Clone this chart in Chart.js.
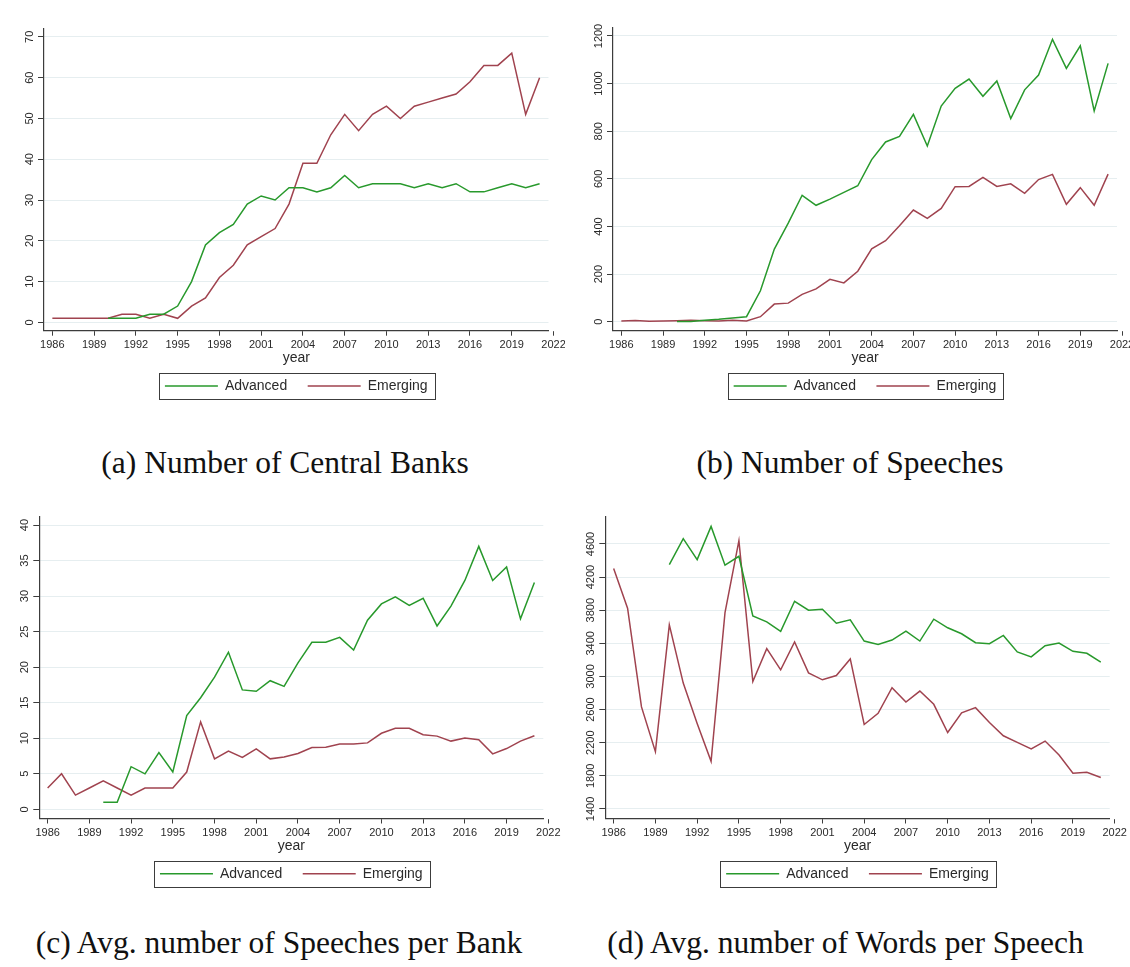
<!DOCTYPE html>
<html>
<head>
<meta charset="utf-8">
<script src="https://cdn.jsdelivr.net/npm/chart.js@4.4.4/dist/chart.umd.min.js"></script>
<style>
  html, body { margin: 0; padding: 0; background: #fff; }
  #page { position: relative; width: 1130px; height: 967px; overflow: hidden; }
  canvas { position: absolute; }
  .caption {
    position: absolute; width: 600px; text-align: center;
    font: 31.5px/1 "Liberation Serif", "DejaVu Serif", serif; color: #111;
    white-space: nowrap;
  }
</style>
</head>
<body>
<div id="page">
  <canvas id="chart-banks"    width="565" height="415" style="left:0;top:0"></canvas>
  <canvas id="chart-speeches" width="565" height="415" style="left:565px;top:0"></canvas>
  <canvas id="chart-perbank"  width="565" height="410" style="left:0;top:490px"></canvas>
  <canvas id="chart-words"    width="565" height="410" style="left:565px;top:490px"></canvas>

  <div class="caption" style="left:-15px;top:446.6px">(a) Number of Central Banks</div>
  <div class="caption" style="left:550px;top:446.6px">(b) Number of Speeches</div>
  <div class="caption" style="left:-21px;top:926.6px">(c) Avg. number of Speeches per Bank</div>
  <div class="caption" style="left:545.5px;top:926.6px">(d) Avg. number of Words per Speech</div>
</div>

<script>
/* ── Data ─────────────────────────────────────────────────────────── */
const YEARS = [1986, 1987, 1988, 1989, 1990, 1991, 1992, 1993, 1994, 1995, 1996, 1997,
               1998, 1999, 2000, 2001, 2002, 2003, 2004, 2005, 2006, 2007, 2008, 2009,
               2010, 2011, 2012, 2013, 2014, 2015, 2016, 2017, 2018, 2019, 2020, 2021];
const X_TICKS = [1986, 1989, 1992, 1995, 1998, 2001, 2004, 2007, 2010, 2013, 2016, 2019, 2022];

// (a) number of central banks
const advBanks = [null, null, null, null, 1, 1, 1, 2, 2, 4, 10, 19,
                  22, 24, 29, 31, 30, 33, 33, 32, 33, 36, 33, 34,
                  34, 34, 33, 34, 33, 34, 32, 32, 33, 34, 33, 34];
const emeBanks = [1, 1, 1, 1, 1, 2, 2, 1, 2, 1, 4, 6,
                  11, 14, 19, 21, 23, 29, 39, 39, 46, 51, 47, 51,
                  53, 50, 53, 54, 55, 56, 59, 63, 63, 66, 51, 60];
const banksTicks = [0, 10, 20, 30, 40, 50, 60, 70];

// (b) number of speeches
const advSpeeches = [null, null, null, null, 1, 1, 6, 10, 16, 21, 130, 305,
                     414, 531, 489, 515, 543, 571, 681, 755, 778, 871, 738, 906,
                     980, 1019, 947, 1011, 853, 974, 1036, 1186, 1064, 1159, 885, 1085];
const emeSpeeches = [3, 5, 2, 3, 4, 6, 4, 3, 6, 3, 21, 74,
                     78, 115, 138, 178, 163, 212, 306, 340, 403, 469, 434, 476,
                     567, 568, 606, 568, 579, 539, 597, 619, 493, 563, 489, 620];
const speechTicks = [0, 200, 400, 600, 800, 1000, 1200];

// (c) avg. speeches per bank
const advPerBank = [null, null, null, null, 1, 1, 6, 5, 8, 5.25, 13.2, 15.7,
                    18.6, 22.1, 16.8, 16.6, 18.1, 17.3, 20.6, 23.5, 23.5, 24.2, 22.4, 26.6,
                    28.9, 29.9, 28.7, 29.7, 25.8, 28.6, 32.2, 37.0, 32.2, 34.1, 26.8, 31.9];
const emePerBank = [3, 5, 2, 3, 4, 3, 2, 3, 3, 3, 5.25, 12.3,
                    7.1, 8.2, 7.3, 8.5, 7.1, 7.35, 7.85, 8.7, 8.75, 9.2, 9.2, 9.35,
                    10.7, 11.4, 11.4, 10.5, 10.3, 9.6, 10.05, 9.8, 7.8, 8.55, 9.6, 10.35];
const perBankTicks = [0, 5, 10, 15, 20, 25, 30, 35, 40];

// (d) avg. words per speech
const advWords = [null, null, null, null, 4352, 4664, 4412, 4812, 4344, 4452, 3732, 3660,
                  3544, 3908, 3800, 3812, 3644, 3684, 3428, 3388, 3440, 3548, 3428, 3692,
                  3588, 3516, 3408, 3396, 3496, 3296, 3236, 3372, 3404, 3304, 3280, 3172];
const emeWords = [4304, 3824, 2632, 2092, 3624, 2920, 2432, 1976, 3772, 4640, 2940, 3336,
                  3080, 3416, 3044, 2960, 3012, 3212, 2420, 2556, 2864, 2692, 2824, 2664,
                  2324, 2560, 2624, 2444, 2284, 2204, 2124, 2220, 2052, 1832, 1844, 1780];
const wordTicks = [1400, 1800, 2200, 2600, 3000, 3400, 3800, 4200, 4600];

/* ── Style ────────────────────────────────────────────────────────── */
const GREEN  = "#28992c";
const MAROON = "#a0434f";
const AXIS   = "#3c3c3c";
const GRID   = "#e6eef0";
const TEXT   = "#2a2a2a";
const SANS   = "'Liberation Sans', Arial, sans-serif";

const toPoints = vals => YEARS.map((yr, i) => ({ x: yr, y: vals[i] }));

// Stata-style framed legend
const legendFrame = {
  id: "legendFrame",
  afterDraw(chart) {
    const boxes = chart.legend && chart.legend.legendHitBoxes;
    if (!boxes || !boxes.length) return;
    const first = boxes[0], last = boxes[boxes.length - 1];
    const x0 = Math.round(first.left - 6) + 0.5;
    const x1 = Math.round(last.left + last.width + 7) + 0.5;
    const y0 = Math.round(first.top - 6) + 0.5;
    const y1 = Math.round(first.top + first.height + 6) + 0.5;
    const ctx = chart.ctx;
    ctx.save();
    ctx.strokeStyle = AXIS; ctx.lineWidth = 1;
    ctx.strokeRect(x0, y0, x1 - x0, y1 - y0);
    ctx.restore();
  }
};

/* ── Panel builder ────────────────────────────────────────────────── */
function makePanel(id, p) {
  const widest = String(p.yTicks[p.yTicks.length - 1]).length * 6.12;
  return new Chart(document.getElementById(id), {
    type: "line",
    data: {
      datasets: [
        { label: "Advanced", data: toPoints(p.adv), borderColor: GREEN,  backgroundColor: GREEN,
          borderWidth: 1.5, pointRadius: 0, tension: 0 },
        { label: "Emerging", data: toPoints(p.eme), borderColor: MAROON, backgroundColor: MAROON,
          borderWidth: 1.5, pointRadius: 0, tension: 0 }
      ]
    },
    options: {
      responsive: false, animation: false,
      layout: { padding: p.pad },
      plugins: {
        tooltip: { enabled: false },
        legend: {
          position: "bottom", fullSize: false, align: "center",
          labels: { boxWidth: 53, boxHeight: 0, padding: 20.5, color: TEXT, font: { family: SANS, size: 14 } }
        }
      },
      scales: {
        x: {
          type: "linear", min: 1985.4, max: 2021.64,
          afterBuildTicks: s => { s.ticks = X_TICKS.map(v => ({ value: v })); },
          afterFit: s => { s.height = 27.8; s.paddingLeft = 0; s.paddingRight = 0; },
          ticks: { autoSkip: false, maxRotation: 0, padding: 3, color: TEXT,
                   font: { family: SANS, size: 11 }, callback: v => String(v) },
          grid: { drawOnChartArea: false, tickLength: 5, tickColor: AXIS },
          border: { color: AXIS, width: 1.2 },
          title: { display: true, text: "year", color: TEXT, font: { family: SANS, size: 14 },
                   padding: { top: 0, bottom: -8.2 } }
        },
        y: {
          min: p.yMin, max: p.yMax,
          afterBuildTicks: s => { s.ticks = p.yTicks.map(v => ({ value: v })); },
          afterFit: s => { s.width = p.yWidth; s.paddingTop = 0; s.paddingBottom = 0; },
          ticks: { minRotation: 90, maxRotation: 90, crossAlign: "center", padding: 8 - widest / 2,
                   color: TEXT, font: { family: SANS, size: 11 }, callback: v => String(v) },
          grid: { color: GRID, lineWidth: 1, tickLength: 6, tickColor: AXIS },
          border: { color: AXIS, width: 1.2 }
        }
      }
    },
    plugins: [legendFrame]
  });
}

/* ── Render ───────────────────────────────────────────────────────── */
makePanel("chart-banks", {
  adv: advBanks, eme: emeBanks, yTicks: banksTicks, yMin: -2.04, yMax: 72.1, yWidth: 44,
  pad: { top: 28.3, left: 0, right: 16.5, bottom: 12 }
});
makePanel("chart-speeches", {
  adv: advSpeeches, eme: emeSpeeches, yTicks: speechTicks, yMin: -37.8, yMax: 1235.7, yWidth: 48,
  pad: { top: 27.5, left: 0, right: 13, bottom: 12 }
});
makePanel("chart-perbank", {
  adv: advPerBank, eme: emePerBank, yTicks: perBankTicks, yMin: -1.29, yMax: 41.13, yWidth: 39.3,
  pad: { top: 27, left: 0, right: 21.7, bottom: 9.2 }
});
makePanel("chart-words", {
  adv: advWords, eme: emeWords, yTicks: wordTicks, yMin: 1285, yMax: 4926, yWidth: 40.3,
  pad: { top: 27, left: 0, right: 20.3, bottom: 9.2 }
});
</script>
</body>
</html>
